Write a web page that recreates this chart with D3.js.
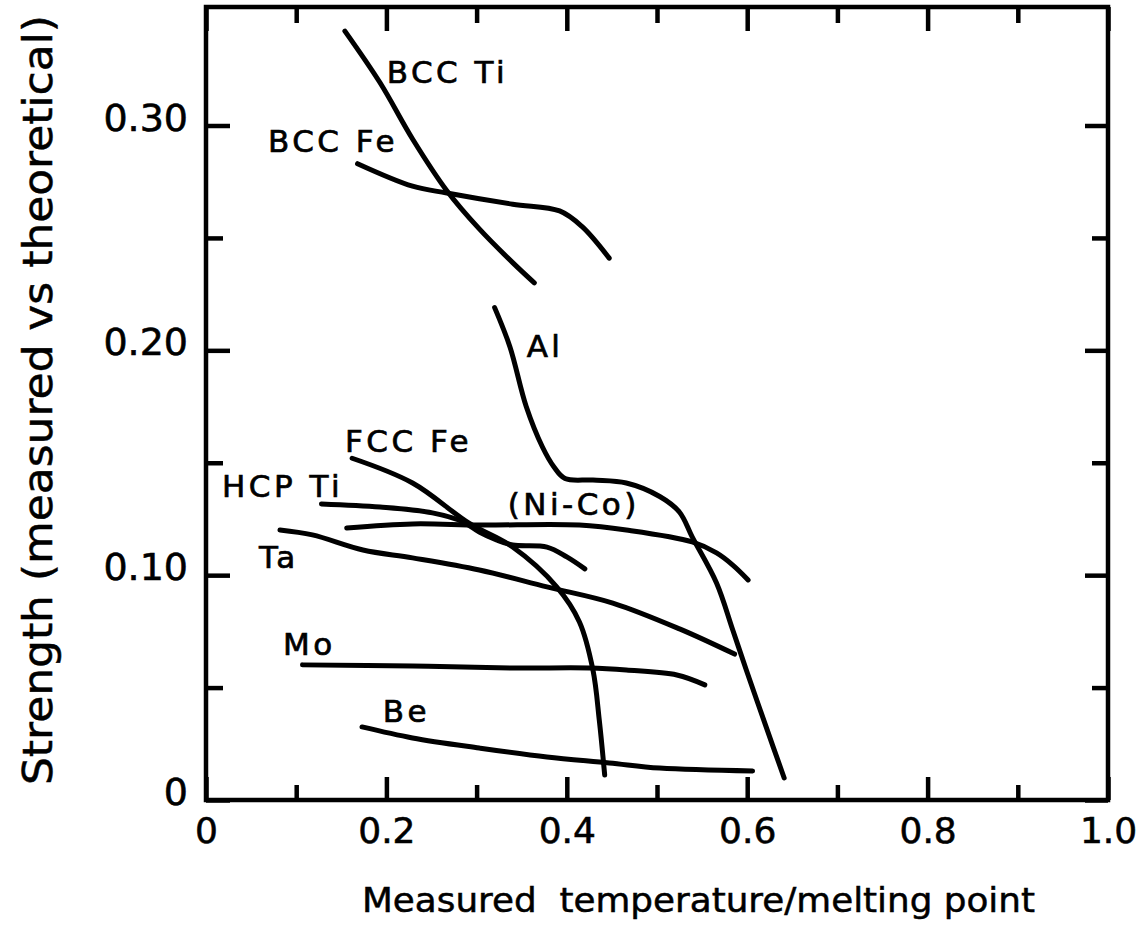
<!DOCTYPE html>
<html>
<head>
<meta charset="utf-8">
<script src="https://cdn.jsdelivr.net/npm/d3@7"></script>
<style>
  body { margin: 0; background: #fff; }
  svg { display: block; }
  text { font-family: "DejaVu Sans", sans-serif; fill: #000; }
</style>
</head>
<body>
<svg width="1138" height="931"></svg>
<script>
// curves: [T/Tm, strength ratio]
var bccTi = [[0.154,0.342],[0.193,0.319],[0.229,0.294],[0.267,0.271],[0.303,0.254],[0.340,0.239],[0.364,0.230]];
var bccFe = [[0.168,0.283],[0.229,0.273],[0.267,0.270],[0.340,0.265],[0.392,0.262],[0.417,0.255],[0.447,0.241]];
var al    = [[0.320,0.219],[0.337,0.2015],[0.355,0.175],[0.373,0.157],[0.386,0.148],[0.398,0.143],[0.429,0.1423],[0.466,0.141],[0.503,0.135],[0.525,0.128],[0.539,0.117],[0.566,0.0965],[0.584,0.0756],[0.599,0.0578],[0.621,0.0325],[0.641,0.0098]];
var fccFe = [[0.162,0.152],[0.229,0.141],[0.292,0.123],[0.340,0.1125],[0.389,0.0947],[0.414,0.0792],[0.429,0.0578],[0.436,0.0356],[0.442,0.0111]];
var hcpTi = [[0.128,0.1317],[0.193,0.1303],[0.251,0.1277],[0.285,0.1237],[0.303,0.1192],[0.322,0.1157],[0.340,0.1134],[0.378,0.1125],[0.400,0.1081],[0.420,0.1028]];
var niCo  = [[0.156,0.121],[0.229,0.1228],[0.303,0.1223],[0.414,0.1223],[0.466,0.1201],[0.539,0.1148],[0.566,0.1099],[0.584,0.1045],[0.601,0.0979]];
var ta    = [[0.082,0.1201],[0.118,0.1179],[0.174,0.1112],[0.229,0.1077],[0.303,0.1023],[0.378,0.0948],[0.451,0.0876],[0.525,0.0761],[0.586,0.0649]];
var mo    = [[0.107,0.0601],[0.229,0.0596],[0.340,0.0587],[0.425,0.0587],[0.466,0.0578],[0.522,0.0556],[0.553,0.0512]];
var be    = [[0.173,0.0325],[0.229,0.0276],[0.303,0.0231],[0.378,0.0191],[0.447,0.0165],[0.503,0.0142],[0.606,0.0129]];

var allSeries = [bccTi, bccFe, al, fccFe, hcpTi, niCo, ta, mo, be];

// curve names and where they sit (data units, left/baseline)
var labelNames = ["BCC Ti", "BCC Fe", "Al", "FCC Fe", "HCP Ti", "(Ni-Co)", "Ta", "Mo", "Be"];
var labelX = [0.2004, 0.0687, 0.3555, 0.154, 0.0177, 0.3344, 0.0587, 0.0853, 0.196];
var labelY = [0.319, 0.2883, 0.1971, 0.1548, 0.1348, 0.1268, 0.1032, 0.0645, 0.0347];

var xMajor = [0, 0.2, 0.4, 0.6, 0.8, 1.0];
var xMinor = [0.1, 0.3, 0.5, 0.7, 0.9];
var xTickLabels = ["0", "0.2", "0.4", "0.6", "0.8", "1.0"];
var yMajor = [0, 0.1, 0.2, 0.3];
var yMinor = [0.05, 0.15, 0.25];
var yTickLabels = ["0", "0.10", "0.20", "0.30"];

var svg = d3.select("svg");
// note: "top" is taken by window.top, so prefix these
var pLeft = 206, pRight = 1108, pTop = 7, pBottom = 800;

var x = d3.scaleLinear().domain([0, 1]).range([pLeft, pRight]);
var y = d3.scaleLinear().domain([0, 0.3]).range([pBottom, 125.5]);

svg.append("rect").attr("width", 1138).attr("height", 931).attr("fill", "#fff");

function styleAxis(g) {
  g.select(".domain").remove();
  g.selectAll(".tick line").attr("stroke", "#000").attr("stroke-width", 4.5);
}

// bottom
svg.append("g").attr("transform", "translate(0," + pBottom + ")")
    .call(d3.axisBottom(x).tickValues(xMajor).tickSize(-23).tickPadding(17)
      .tickFormat(function(d, i) { return xTickLabels[i]; }))
    .call(styleAxis)
    .selectAll("text").attr("font-size", "36px").attr("font-family", "DejaVu Sans")
    .attr("stroke", "#000").attr("stroke-width", 0.6);
svg.append("g").attr("transform", "translate(0," + pBottom + ")")
    .call(d3.axisBottom(x).tickValues(xMinor).tickSize(-15).tickFormat(""))
    .call(styleAxis);
// top
svg.append("g").attr("transform", "translate(0," + pTop + ")")
    .call(d3.axisTop(x).tickValues(xMajor).tickSize(-24).tickFormat(""))
    .call(styleAxis);
svg.append("g").attr("transform", "translate(0," + pTop + ")")
    .call(d3.axisTop(x).tickValues(xMinor).tickSize(-16).tickFormat(""))
    .call(styleAxis);
// left
svg.append("g").attr("transform", "translate(" + pLeft + ",0)")
    .call(d3.axisLeft(y).tickValues(yMajor).tickSize(-24).tickPadding(18)
      .tickFormat(function(d, i) { return yTickLabels[i]; }))
    .call(styleAxis)
    .selectAll("text").attr("font-size", "38px").attr("font-family", "DejaVu Sans")
    .attr("dy", "0.12em").attr("stroke", "#000").attr("stroke-width", 0.6);
svg.append("g").attr("transform", "translate(" + pLeft + ",0)")
    .call(d3.axisLeft(y).tickValues(yMinor).tickSize(-17).tickFormat(""))
    .call(styleAxis);
// right
svg.append("g").attr("transform", "translate(" + pRight + ",0)")
    .call(d3.axisRight(y).tickValues(yMajor).tickSize(-23).tickFormat(""))
    .call(styleAxis);
svg.append("g").attr("transform", "translate(" + pRight + ",0)")
    .call(d3.axisRight(y).tickValues(yMinor).tickSize(-16).tickFormat(""))
    .call(styleAxis);

// frame
svg.append("rect")
    .attr("x", pLeft).attr("y", pTop)
    .attr("width", pRight - pLeft).attr("height", pBottom - pTop)
    .attr("fill", "none").attr("stroke", "#000").attr("stroke-width", 4.5);

var line = d3.line()
    .x(function(d) { return x(d[0]); })
    .y(function(d) { return y(d[1]); })
    .curve(d3.curveCatmullRom.alpha(0.5));

svg.append("g").selectAll("path")
    .data(allSeries)
    .enter().append("path")
    .attr("d", line)
    .attr("fill", "none")
    .attr("stroke", "#000")
    .attr("stroke-width", 5)
    .attr("stroke-linecap", "round")
    .attr("stroke-linejoin", "round");

svg.append("g").selectAll("text")
    .data(labelNames)
    .enter().append("text")
    .attr("x", function(d, i) { return x(labelX[i]); })
    .attr("y", function(d, i) { return y(labelY[i]); })
    .attr("font-size", "31px")
    .attr("letter-spacing", "3.5px")
    .attr("stroke", "#000").attr("stroke-width", 0.7)
    .text(function(d) { return d; });

// axis titles
svg.append("text")
    .attr("x", 362).attr("y", 912)
    .attr("font-size", "33px")
    .attr("textLength", 673)
    .attr("lengthAdjust", "spacingAndGlyphs")
    .attr("stroke", "#000").attr("stroke-width", 0.5)
    .text("Measured\u00a0\u00a0temperature/melting point");

svg.append("text")
    .attr("transform", "translate(52,400) rotate(-90)")
    .attr("text-anchor", "middle")
    .attr("font-size", "40px")
    .attr("textLength", 770)
    .attr("lengthAdjust", "spacingAndGlyphs")
    .attr("stroke", "#000").attr("stroke-width", 0.5)
    .text("Strength (measured vs theoretical)");
</script>
</body>
</html>
